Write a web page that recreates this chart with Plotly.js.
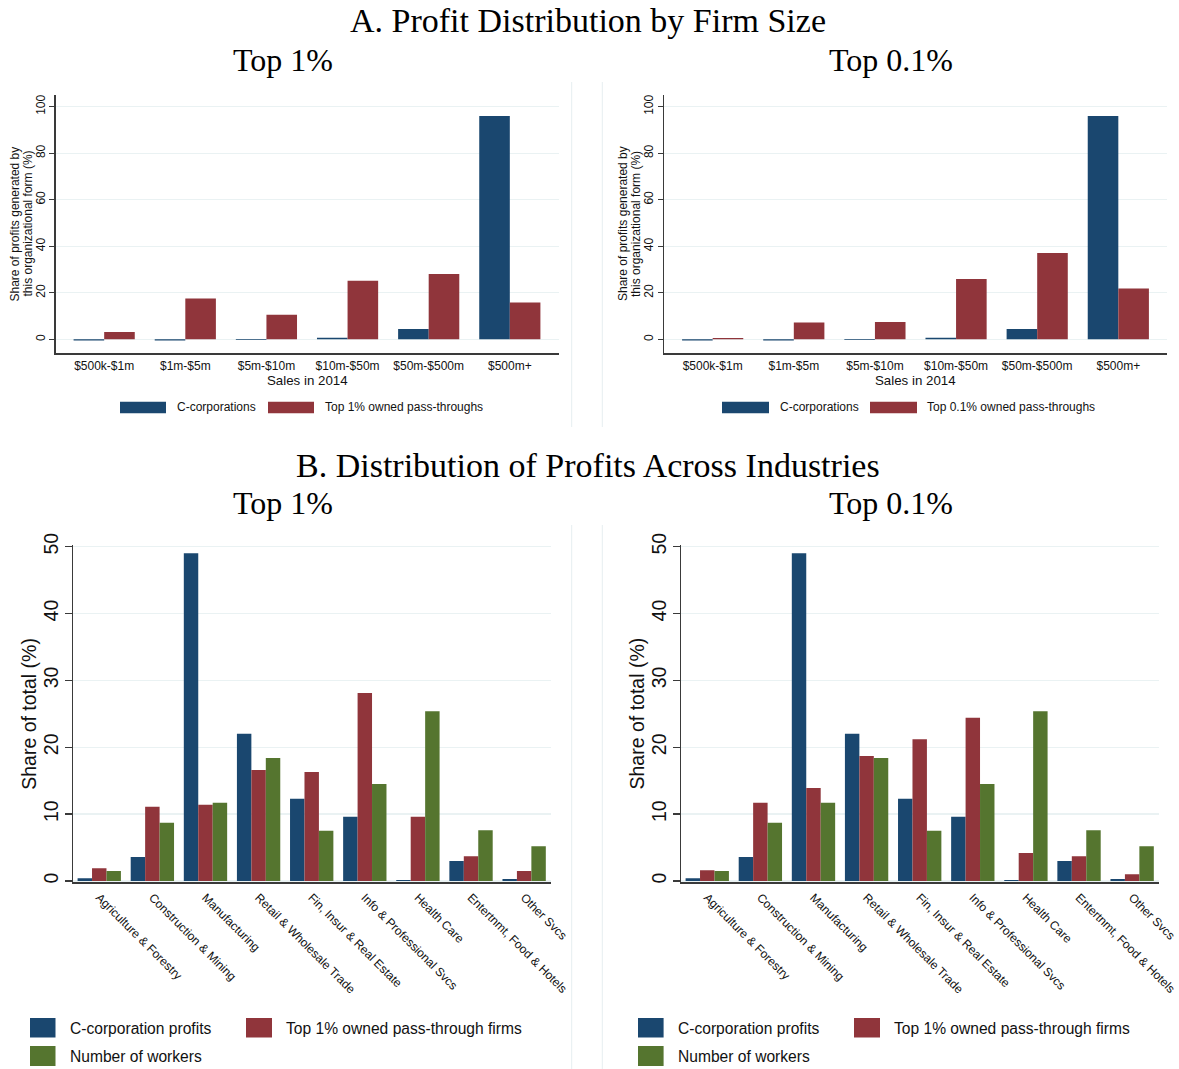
<!DOCTYPE html>
<html><head><meta charset="utf-8">
<script src="https://cdn.plot.ly/plotly-3.0.1.min.js"></script>
<style>html,body{margin:0;padding:0;background:#fff}#chart{width:1179px;height:1069px}</style>
</head><body><div id="chart"></div><script>
// ---------- DATA ----------
const sizeCats = ['$500k-$1m', '$1m-$5m', '$5m-$10m', '$10m-$50m', '$50m-$500m', '$500m+'];
const ccorpSizeTop1 = [-0.5, -0.5, -0.3, 0.7, 4.4, 96.0];
const passSizeTop1 = [3.2, 17.6, 10.6, 25.2, 28.1, 15.8];
const ccorpSizeTop01 = [-0.5, -0.5, -0.3, 0.7, 4.4, 96.0];
const passSizeTop01 = [0.6, 7.2, 7.4, 25.9, 37.1, 21.8];

const industries = ['Agriculture & Forestry', 'Construction & Mining', 'Manufacturing', 'Retail & Wholesale Trade',
  'Fin, Insur & Real Estate', 'Info & Professional Svcs', 'Health Care', 'Entertnmt, Food & Hotels', 'Other Svcs'];
const ccorpInd = [0.4, 3.6, 49.0, 22.0, 12.3, 9.6, 0.15, 3.0, 0.3];
const passIndTop1 = [1.9, 11.1, 11.4, 16.6, 16.3, 28.1, 9.6, 3.7, 1.5];
const passIndTop01 = [1.6, 11.7, 13.9, 18.7, 21.2, 24.4, 4.2, 3.7, 1.0];
const workersInd = [1.5, 8.7, 11.7, 18.4, 7.5, 14.5, 25.4, 7.6, 5.2];

const topTicks = [0, 20, 40, 60, 80, 100];
const botTicks = [0, 10, 20, 30, 40, 50];

// ---------- STYLE ----------
const W = 1179, H = 1069;
const px = x => x / W, py = y => 1 - y / H;
const navy = '#1a476f', maroon = '#90353b', green = '#55752f';
const gridCol = '#eaf2f3', axisCol = '#3a3a3a', txt = '#111111';
const sans = '"Liberation Sans", Arial, Helvetica, sans-serif';
const serif = '"Liberation Serif", "Times New Roman", serif';

// bar geometry (category units): top groups 2 bars, bottom groups 3 bars
const topBarW = 0.377, botBarW = 0.272;

function bar(x, y, color, xa, ya, name, w, idx, n) {
  return {type: 'bar', x: x, y: y, name: name, xaxis: xa, yaxis: ya,
    width: w, offset: -w * n / 2 + idx * w,
    marker: {color: color, line: {width: 0}}, showlegend: false, hoverinfo: 'x+y'};
}

const data = [
  bar(sizeCats, ccorpSizeTop1, navy, 'x', 'y', 'C-corporations', topBarW, 0, 2),
  bar(sizeCats, passSizeTop1, maroon, 'x', 'y', 'Top 1% owned pass-throughs', topBarW, 1, 2),
  bar(sizeCats, ccorpSizeTop01, navy, 'x2', 'y2', 'C-corporations', topBarW, 0, 2),
  bar(sizeCats, passSizeTop01, maroon, 'x2', 'y2', 'Top 0.1% owned pass-throughs', topBarW, 1, 2),
  bar(industries, ccorpInd, navy, 'x3', 'y3', 'C-corporation profits', botBarW, 0, 3),
  bar(industries, passIndTop1, maroon, 'x3', 'y3', 'Top 1% owned pass-through firms', botBarW, 1, 3),
  bar(industries, workersInd, green, 'x3', 'y3', 'Number of workers', botBarW, 2, 3),
  bar(industries, ccorpInd, navy, 'x4', 'y4', 'C-corporation profits', botBarW, 0, 3),
  bar(industries, passIndTop01, maroon, 'x4', 'y4', 'Top 1% owned pass-through firms', botBarW, 1, 3),
  bar(industries, workersInd, green, 'x4', 'y4', 'Number of workers', botBarW, 2, 3)
];

function xAxisTop(d, anchor) {
  return {domain: d, anchor: anchor, type: 'category', range: [-0.6, 5.6], fixedrange: true,
    showline: true, linecolor: axisCol, linewidth: 1.2, showgrid: false, zeroline: false,
    ticks: '', tickfont: {family: sans, size: 12, color: txt}, ticklabelstandoff: 1};
}
function yAxisTop(d, anchor) {
  return {domain: d, anchor: anchor, range: [-6.0, 105.0], tickvals: topTicks, fixedrange: true,
    showline: true, linecolor: axisCol, linewidth: 1.2, showgrid: true, gridcolor: gridCol, gridwidth: 1.3,
    zeroline: true, zerolinecolor: gridCol, zerolinewidth: 1.3,
    ticks: 'outside', ticklen: 5, tickcolor: axisCol, tickwidth: 1.2, tickangle: -90,
    tickfont: {family: sans, size: 12, color: txt}, ticklabelstandoff: 0};
}
function xAxisBot(d, anchor) {
  return {domain: d, anchor: anchor, type: 'category', range: [-0.5, 8.5], fixedrange: true,
    showline: true, linecolor: axisCol, linewidth: 1.5, showgrid: false, zeroline: false,
    ticks: '', tickangle: 45, tickfont: {family: sans, size: 12, color: txt}, ticklabelstandoff: 2};
}
function yAxisBot(d, anchor) {
  return {domain: d, anchor: anchor, range: [-0.2, 50.25], tickvals: botTicks, fixedrange: true,
    showline: true, linecolor: axisCol, linewidth: 1.2, showgrid: true, gridcolor: gridCol, gridwidth: 1.3,
    zeroline: true, zerolinecolor: gridCol, zerolinewidth: 1.3,
    ticks: 'outside', ticklen: 7, tickcolor: axisCol, tickwidth: 1.2, tickangle: -90,
    tickfont: {family: sans, size: 19.5, color: txt}, ticklabelstandoff: -1};
}

const topY = [py(353.3), py(95)];
const botY = [py(882.3), py(545)];

function ann(text, x, y, opts) {
  return Object.assign({text: text, x: px(x), y: py(y), xref: 'paper', yref: 'paper', showarrow: false,
    xanchor: 'center', yanchor: 'middle', font: {family: sans, size: 12, color: txt}}, opts || {});
}

const annotations = [
  ann('A. Profit Distribution by Firm Size', 588, 21, {font: {family: serif, size: 34, color: '#000'}}),
  ann('Top 1%', 283, 60, {font: {family: serif, size: 32, color: '#000'}}),
  ann('Top 0.1%', 891, 60, {font: {family: serif, size: 32, color: '#000'}}),
  ann('B. Distribution of Profits Across Industries', 588, 465, {font: {family: serif, size: 34, color: '#000'}}),
  ann('Top 1%', 283, 503, {font: {family: serif, size: 32, color: '#000'}}),
  ann('Top 0.1%', 891, 503, {font: {family: serif, size: 32, color: '#000'}}),
  ann('Share of profits generated by', 14.5, 224, {textangle: -90}),
  ann('this organizational form (%)', 27.5, 224, {textangle: -90}),
  ann('Share of profits generated by', 623, 224, {textangle: -90}),
  ann('this organizational form (%)', 636, 224, {textangle: -90}),
  ann('Sales in 2014', 307, 380.7, {font: {family: sans, size: 13.3, color: txt}}),
  ann('Sales in 2014', 915, 380.7, {font: {family: sans, size: 13.3, color: txt}}),
  ann('Share of total (%)', 28.3, 713.5, {textangle: -90, font: {family: sans, size: 19.5, color: txt}}),
  ann('Share of total (%)', 636, 713.5, {textangle: -90, font: {family: sans, size: 19.5, color: txt}})
];

const shapes = [];
function rect(x0, x1, y0, y1, color) {
  shapes.push({type: 'rect', xref: 'paper', yref: 'paper', x0: px(x0), x1: px(x1), y0: py(y1), y1: py(y0),
    fillcolor: color, line: {width: 0}});
}
function vline(x, y0, y1) {
  shapes.push({type: 'line', xref: 'paper', yref: 'paper', x0: px(x), x1: px(x), y0: py(y0), y1: py(y1),
    line: {color: '#e6eef0', width: 1}});
}
function legItem(bx0, bx1, by0, by1, tx, ty, color, label, size) {
  rect(bx0, bx1, by0, by1, color);
  annotations.push(ann(label, tx, ty, {xanchor: 'left', font: {family: sans, size: size, color: txt}}));
}
// top legends
legItem(120, 166, 401.7, 413.3, 174.5, 407.5, navy, 'C-corporations', 12);
legItem(268, 314, 401.7, 413.3, 322.7, 407.5, maroon, 'Top 1% owned pass-throughs', 12);
legItem(722, 769, 401.7, 413.3, 777.5, 407.5, navy, 'C-corporations', 12);
legItem(870, 917, 401.7, 413.3, 925, 407.5, maroon, 'Top 0.1% owned pass-throughs', 12);
// bottom legends
legItem(30, 55.5, 1018, 1037.5, 67.7, 1028, navy, 'C-corporation profits', 15.6);
legItem(246, 272, 1018, 1037.5, 283.5, 1028, maroon, 'Top 1% owned pass-through firms', 15.6);
legItem(30, 55.5, 1046, 1066, 67.7, 1056, green, 'Number of workers', 15.6);
legItem(638, 663.6, 1018, 1037.5, 676, 1028, navy, 'C-corporation profits', 15.6);
legItem(854, 880, 1018, 1037.5, 892, 1028, maroon, 'Top 1% owned pass-through firms', 15.6);
legItem(638, 663.6, 1046, 1066, 676, 1056, green, 'Number of workers', 15.6);
// panel separators
vline(571.7, 82, 427); vline(602.3, 82, 427);
vline(571.7, 525, 1069); vline(602.3, 525, 1069);

const layout = {
  width: W, height: H, margin: {l: 0, r: 0, t: 0, b: 0},
  paper_bgcolor: '#ffffff', plot_bgcolor: '#ffffff',
  barmode: 'group', showlegend: false,
  xaxis: xAxisTop([px(55.5), px(558.5)], 'y'),
  yaxis: yAxisTop(topY, 'x'),
  xaxis2: xAxisTop([px(664), px(1167)], 'y2'),
  yaxis2: yAxisTop(topY, 'x2'),
  xaxis3: xAxisBot([px(72.7), px(550.7)], 'y3'),
  yaxis3: yAxisBot(botY, 'x3'),
  xaxis4: xAxisBot([px(680.7), px(1158.7)], 'y4'),
  yaxis4: yAxisBot(botY, 'x4'),
  annotations: annotations, shapes: shapes
};

Plotly.newPlot('chart', data, layout, {displayModeBar: false, staticPlot: true});
</script></body></html>
